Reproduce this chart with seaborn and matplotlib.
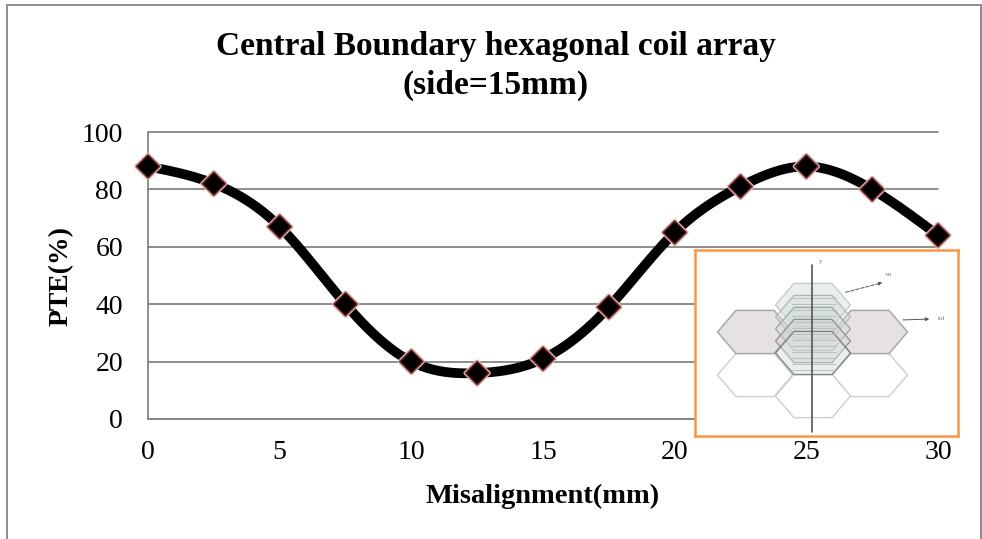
import numpy as np
import matplotlib
matplotlib.use("Agg")
import matplotlib.pyplot as plt
import matplotlib.patheffects as pe
from matplotlib.patches import Polygon, Rectangle
import seaborn as sns

misalignment = [0, 2.5, 5, 7.5, 10, 12.5, 15, 17.5, 20, 22.5, 25, 27.5, 30]
pte = [88, 82, 67, 40, 20, 16, 21, 39, 65, 81, 88, 80, 64]
title_lines = ["Central Boundary hexagonal coil array", "(side=15mm)"]
x_label = "Misalignment(mm)"
y_label = "PTE(%)"
x_ticks = [0, 5, 10, 15, 20, 25, 30]
y_ticks = [0, 20, 40, 60, 80, 100]

W, H = 982, 539
sns.set_theme(style="white")
plt.rcParams["font.family"] = ["Liberation Serif", "DejaVu Serif"]
plt.rcParams["text.color"] = "black"
plt.rcParams["axes.labelcolor"] = "black"


def smooth(xs, ys, n=25):
    """Natural cubic spline through the points, like a spreadsheet's smoothed line."""
    xs, ys = np.asarray(xs, float), np.asarray(ys, float)
    h = np.diff(xs)
    m = len(xs)
    A = np.zeros((m, m))
    b = np.zeros(m)
    A[0, 0] = A[-1, -1] = 1
    for i in range(1, m - 1):
        A[i, i - 1:i + 2] = h[i - 1], 2 * (h[i - 1] + h[i]), h[i]
        b[i] = 6 * ((ys[i + 1] - ys[i]) / h[i] - (ys[i] - ys[i - 1]) / h[i - 1])
    k = np.linalg.solve(A, b)
    ox, oy = [], []
    for i in range(m - 1):
        t = np.linspace(0, 1, n)
        oy.append((1 - t) * ys[i] + t * ys[i + 1]
                  + h[i] ** 2 / 6 * (((1 - t) ** 3 - (1 - t)) * k[i] + (t ** 3 - t) * k[i + 1]))
        ox.append(xs[i] + t * h[i])
    return np.concatenate(ox), np.concatenate(oy)


fig = plt.figure(figsize=(W / 100, H / 100), dpi=100, facecolor="white")
fig.add_artist(Rectangle((7 / W, -0.02), (981 - 7) / W, 1.02 - 5 / H, transform=fig.transFigure,
                         fill=False, ec="#8c8c8c", lw=1.4))

ax = fig.add_axes([148 / W, 1 - 419 / H, (938 - 148) / W, (419 - 132) / H])
ax.set_xlim(0, 30)
ax.set_ylim(0, 100)
ax.set_xticks(x_ticks)
ax.set_yticks(y_ticks)
ax.grid(axis="y", color="#858585", lw=1.3, clip_on=False)
ax.set_axisbelow(True)
for side in ("top", "right"):
    ax.spines[side].set_visible(False)
for side in ("left", "bottom"):
    ax.spines[side].set_color("#858585")
    ax.spines[side].set_linewidth(1.3)
ax.tick_params(axis="y", length=0, labelsize=20, labelcolor="black", pad=18)
ax.tick_params(axis="x", length=0, labelsize=20, labelcolor="black", pad=15)

sx, sy = smooth(misalignment, pte)
sns.lineplot(x=sx, y=sy, ax=ax, color="black", lw=7, sort=False, errorbar=None, clip_on=False)
sns.scatterplot(x=misalignment, y=pte, ax=ax, marker="D", s=140, color="black", edgecolor="#6e2020",
                linewidth=1.0, clip_on=False, zorder=5,
                path_effects=[pe.withStroke(linewidth=3, foreground="#d8b4b4")])

ax.set_xlabel(x_label, fontsize=20.5, fontweight="bold", labelpad=14)
ax.set_ylabel(y_label, fontsize=20, fontweight="bold", labelpad=6)
fig.text(496 / W, 1 - 46 / H, title_lines[0], fontsize=24, fontweight="bold", ha="center", va="center")
fig.text(496 / W, 1 - 85 / H, title_lines[1], fontsize=24, fontweight="bold", ha="center", va="center")

# Inset schematic of the coil array
ins = fig.add_axes([695 / W, 1 - 436 / H, (958 - 695) / W, (436 - 250) / H], zorder=10)
ins.set_xlim(695, 958)
ins.set_ylim(436, 250)
ins.set_xticks([])
ins.set_yticks([])
ins.set_facecolor("white")
for s in ins.spines.values():
    s.set_color("#f79646")
    s.set_linewidth(1.8)


def hexagon(cx, cy, fc, ec, lw=1.0, alpha=1.0):
    dx, dy = 37.5, 21.6
    pts = [(cx - dx, cy), (cx - 19, cy - dy), (cx + 19, cy - dy), (cx + dx, cy), (cx + 19, cy + dy), (cx - 19, cy + dy)]
    face = matplotlib.colors.to_rgba(fc, alpha)
    ins.add_patch(Polygon(pts, closed=True, fc=face, ec=ec, lw=lw))


for c in [(755, 375), (870, 375), (813, 396)]:
    hexagon(*c, "white", "#cfcfcf", 1.0)
for c in [(755, 332), (870, 332)]:
    hexagon(*c, "#e6e2e3", "#a8a8a8", 1.1)
for cy, fc, ec in [(305, "#cfdcd7", "#c4c8c6"), (317, "#cfdcd7", "#b2b6b4"), (329, "#cfdcd7", "#9fa3a1"),
                   (341, "#d6d0d2", "#8f8f8f"), (353, "#cfdcd7", "#7d7d7d")]:
    hexagon(813, cy, fc, ec, 0.9, 0.45)
for yy in np.arange(298, 372, 6):
    ins.plot([792, 836], [yy, yy], color="#b3bbb7", lw=0.6)
ins.plot([812, 812], [265, 432], color="#555555", lw=1.2)
ins.annotate("", xy=(885, 282), xytext=(843, 293),
             arrowprops=dict(arrowstyle="-|>", color="#555555", ls="--", lw=0.7, mutation_scale=5))
ins.annotate("", xy=(932, 319), xytext=(900, 320),
             arrowprops=dict(arrowstyle="-|>", color="#555555", lw=0.7, mutation_scale=5))
ins.text(821, 262, "y", fontsize=5, color="#777777", ha="center", va="center")
ins.text(889, 275, "m", fontsize=5, color="#777777", ha="center", va="center")
ins.text(942, 319, "tol", fontsize=5, color="#777777", ha="center", va="center")

fig.savefig("out.png", dpi=100)
